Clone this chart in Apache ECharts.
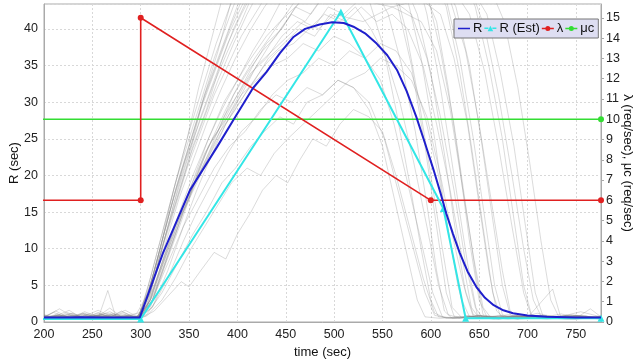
<!DOCTYPE html>
<html><head><meta charset="utf-8">
<script src="https://cdn.jsdelivr.net/npm/echarts@6/dist/echarts.min.js"></script>
<style>html,body{margin:0;padding:0;background:#fff}#c{width:634px;height:364px}</style>
</head><body><div id="c"></div>
<script>
// ---- data ----
const xTicks = [200, 250, 300, 350, 400, 450, 500, 550, 600, 650, 700, 750];
const seriesNames = ['R', 'R (Est)', 'λ', 'μc'];
// mean response time R (sec)
const rMean = [[200,0.6],[220,0.6],[240,0.65],[260,0.6],[280,0.6],[299,0.6],[323,9.4],[351,18.0],[379,23.9],[396,27.6],[416,31.9],[430,34.1],[444,36.7],[458,38.9],[470,40.0],[485,40.6],[498,40.9],[510,40.8],[520,40.3],[532,39.4],[544,38.0],[555,36.4],[565,34.4],[575,31.5],[585,28.0],[594,24.4],[603,20.7],[610,17.6],[616,14.8],[623,12.0],[630,9.4],[638,6.9],[647,4.8],[656,3.3],[665,2.3],[675,1.6],[685,1.2],[700,0.9],[720,0.7],[750,0.6],[776,0.6]];
// estimated R (sec)
const rEst = [[0,0.4],[300,0.4],[507,42.3],[613,15.5],[636,0.5],[776,0.5]];
// arrival rate λ (req/sec)
const lambda = [[0,6],[300,6],[300,15],[600,6],[776,6]];
// service capacity μc (req/sec)
const muC = [[0,10],[776,10]];
// individual simulation runs R (sec)
const grayRuns = [
[[200,0.5],[214,1.0],[228,0.6],[242,1.2],[256,0.5],[270,0.8],[284,0.4],[298,0.7],[312,6],[326,12],[340,19],[352,24],[366,31],[380,37],[394,44],[410,50],[540,52],[560,47],[574,40],[588,30],[600,20],[612,10],[622,2],[632,0.6],[650,0.9],[670,0.4],[690,0.8],[710,0.5],[735,1.1],[755,0.5],[776,0.7]],
[[200,0.8],[210,0.4],[224,1.3],[238,0.6],[252,0.9],[266,0.5],[280,1.5],[294,0.6],[306,2],[320,7],[336,13],[350,17],[366,23],[380,26],[396,31],[410,34],[426,37],[440,39],[456,42],[470,41],[486,44],[500,46],[520,45],[540,47],[560,44],[580,42],[596,36],[610,28],[624,18],[636,8],[646,2],[654,0.5],[670,0.8],[690,0.4],[710,1.2],[730,0.6],[750,0.9],[776,0.4]],
[[200,0.6],[216,1.8],[230,0.7],[244,0.5],[258,1.0],[272,0.6],[286,0.9],[300,0.5],[314,1.5],[328,3.5],[342,5.5],[350,4.8],[362,7],[376,9.5],[388,8.6],[400,12],[414,15],[426,18],[440,20],[452,19],[464,22],[478,25],[492,24],[506,27],[520,29],[536,28],[550,26],[564,20],[578,13],[592,6],[604,1.2],[616,0.5],[640,0.8],[665,0.4],[690,0.9],[720,0.5],[750,0.8],[776,0.5]],
[[200,0.4],[212,0.7],[226,0.5],[240,1.0],[254,0.4],[268,0.6],[282,0.9],[296,0.5],[308,4],[320,10],[334,18],[348,25],[360,32],[372,38],[386,45],[400,52],[560,55],[580,50],[596,42],[610,32],[624,20],[638,8],[648,1],[660,0.6],[680,1.0],[700,0.5],[725,0.7],[750,0.4],[776,0.8]],
[[200,1.0],[214,0.6],[228,0.4],[242,0.8],[256,1.6],[270,0.7],[284,0.5],[298,0.8],[310,3],[326,9],[340,14],[356,20],[370,25],[386,30],[400,33],[416,37],[430,40],[446,44],[620,46],[640,42],[656,34],[670,24],[684,13],[696,4],[704,0.8],[720,0.5],[740,0.9],[760,0.6],[776,0.5]],
[[200,0.5],[216,0.9],[232,0.5],[246,1.1],[260,0.6],[274,0.4],[288,0.8],[300,0.6],[314,5],[330,11],[344,16],[360,21],[374,25],[390,28],[404,31],[420,33],[436,35],[452,36],[468,38],[484,37],[500,39],[516,38],[532,36],[548,33],[562,27],[576,19],[590,11],[602,4],[612,0.7],[630,0.5],[650,0.9],[680,0.5],[710,0.7],[740,0.4],[776,0.6]],
[[200,0.7],[210,1.3],[224,0.6],[238,0.4],[252,0.8],[264,1.2],[278,0.6],[292,0.9],[302,1.5],[316,8],[330,15],[346,22],[360,27],[374,32],[390,37],[404,41],[420,46],[600,48],[616,43],[630,34],[642,24],[654,13],[664,4],[672,0.8],[690,0.5],[710,0.9],[730,0.6],[755,1.4],[776,0.7]],
[[200,0.6],[214,0.4],[228,1.0],[242,0.6],[256,0.5],[266,4.3],[274,0.8],[288,0.5],[300,0.7],[312,3],[328,9],[344,15],[358,19],[372,23],[388,27],[402,30],[418,33],[432,36],[448,38],[464,40],[480,39],[496,42],[512,41],[528,43],[544,41],[560,42],[576,40],[592,35],[606,27],[620,18],[632,9],[642,2],[650,0.5],[670,0.9],[700,0.6],[726,4.5],[734,0.8],[755,0.5],[776,0.6]],
[[200,0.9],[212,0.5],[226,0.7],[240,1.2],[254,0.6],[268,1.9],[280,0.7],[294,0.5],[306,1],[322,4],[338,8],[354,12],[368,15],[384,19],[398,21],[414,24],[428,26],[444,28],[458,27],[472,30],[488,31],[504,33],[520,32],[536,30],[552,25],[566,18],[580,11],[594,4],[604,0.9],[620,0.5],[650,0.8],[680,0.4],[710,0.8],[740,0.5],[776,0.7]],
[[200,0.5],[216,0.8],[230,0.4],[244,0.7],[258,1.1],[272,0.5],[286,0.7],[300,0.5],[312,5],[326,12],[340,18],[354,24],[368,29],[382,35],[396,40],[410,44],[640,46],[656,40],[670,31],[684,20],[696,10],[706,3],[714,0.8],[730,0.5],[750,0.9],[776,0.5]],
[[200,0.7],[212,1.5],[226,0.6],[240,0.5],[254,0.9],[268,0.6],[282,1.3],[296,0.6],[308,2.5],[322,8],[338,14],[352,18],[368,22],[382,26],[398,29],[412,32],[428,35],[442,37],[458,38],[474,40],[490,42],[506,41],[522,43],[538,40],[554,36],[568,30],[582,22],[596,13],[608,5],[618,1],[630,0.5],[660,0.8],[690,0.5],[720,0.9],[750,0.5],[776,0.6]],
[[200,0.4],[214,0.7],[228,1.2],[242,0.5],[256,0.7],[270,1.0],[284,0.4],[298,0.6],[310,6],[324,13],[338,20],[350,26],[364,32],[378,38],[392,43],[406,47],[560,48],[576,44],[590,36],[604,25],[616,14],[628,5],[636,0.9],[650,0.6],[670,0.4],[695,0.8],[720,0.5],[745,1.0],[776,0.5]],
[[200,0.6],[214,0.9],[228,0.5],[242,1.4],[256,0.7],[270,0.5],[284,1.0],[298,0.7],[310,2],[326,8],[340,13],[356,19],[370,23],[386,28],[400,31],[416,35],[430,38],[446,40],[460,43],[476,45],[600,47],[620,44],[636,37],[650,27],[662,17],[674,7],[682,1.5],[692,0.6],[712,0.9],[735,0.5],[760,0.8],[776,0.5]],
[[200,0.8],[214,0.5],[228,0.9],[242,0.6],[256,1.2],[270,0.6],[284,0.5],[298,0.9],[310,4],[324,10],[340,17],[354,22],[368,27],[384,32],[398,36],[414,40],[428,43],[444,46],[520,47],[536,44],[550,38],[564,29],[578,19],[590,10],[600,3],[608,0.7],[625,0.5],[650,0.9],[680,0.5],[710,0.7],[745,0.4],[776,0.6]],
[[200,0.5],[212,0.8],[226,1.6],[238,0.6],[252,0.5],[266,0.9],[280,0.6],[294,0.4],[306,0.8],[322,3],[336,6],[352,10],[366,13],[380,16],[394,19],[410,21],[424,20],[438,23],[452,25],[468,27],[484,29],[500,31],[516,33],[532,34],[548,36],[564,35],[580,33],[596,28],[610,20],[622,12],[634,5],[644,1],[656,0.5],[680,0.8],[710,0.5],[740,0.9],[776,0.5]],
[[200,0.6],[212,0.4],[226,0.8],[240,0.5],[254,0.7],[268,1.4],[282,0.6],[296,0.5],[306,3],[320,10],[334,17],[348,23],[362,29],[376,34],[390,39],[404,43],[420,47],[580,49],[596,45],[610,37],[624,27],[636,16],[646,7],[654,1],[664,0.5],[690,0.8],[720,0.5],[750,0.7],[776,0.4]],
[[200,0.7],[216,0.5],[230,0.9],[244,0.6],[258,0.4],[272,1.1],[286,0.6],[300,0.8],[312,3],[328,9],[344,15],[358,20],[374,25],[388,29],[404,33],[418,36],[434,39],[450,42],[466,45],[660,46],[676,41],[690,32],[702,22],[714,11],[724,3],[732,0.8],[750,0.5],[765,1.8],[776,0.7]],
[[200,0.5],[214,1.1],[228,0.6],[242,0.4],[256,0.9],[270,0.5],[284,0.8],[298,0.5],[308,5],[322,12],[336,19],[350,25],[362,30],[376,36],[390,41],[404,46],[550,48],[566,43],[580,35],[594,24],[606,13],[616,4],[624,0.8],[640,0.5],[660,0.8],[690,0.4],[720,0.7],[750,0.5],[776,0.8]],
[[200,0.9],[214,0.6],[228,0.4],[242,0.8],[256,0.6],[270,1.0],[284,0.5],[298,0.7],[310,3],[326,9],[340,14],[356,19],[370,24],[384,27],[400,31],[414,34],[430,36],[446,39],[462,41],[478,40],[494,43],[510,42],[526,44],[560,43],[590,44],[610,42],[624,36],[638,27],[650,16],[660,7],[668,1.5],[676,0.6],[700,0.9],[730,0.5],[760,0.8],[776,0.5]],
[[200,0.4],[212,0.6],[226,1.0],[240,0.5],[254,0.8],[268,0.4],[282,0.7],[296,1.2],[308,4],[322,11],[336,18],[350,24],[364,30],[378,35],[392,40],[408,45],[570,47],[586,42],[600,34],[614,23],[626,12],[636,4],[644,0.7],[660,0.5],[690,0.9],[720,0.5],[750,0.8],[776,0.5]],
[[200,0.6],[214,0.8],[228,0.5],[242,1.0],[256,0.5],[270,0.8],[284,1.6],[298,0.6],[312,2],[328,6],[344,11],[358,15],[374,19],[390,23],[404,26],[420,28],[436,31],[452,33],[468,34],[484,36],[500,35],[516,37],[532,36],[548,38],[564,37],[580,34],[594,28],[608,20],[620,11],[632,3],[640,0.7],[660,0.5],[690,0.8],[720,0.5],[750,0.9],[776,0.6]],
[[200,0.5],[214,0.7],[228,0.4],[242,0.9],[256,0.5],[270,0.7],[284,0.4],[298,0.8],[310,5],[324,12],[338,19],[352,25],[366,31],[380,36],[394,41],[408,46],[630,48],[646,43],[660,35],[674,25],[686,14],[696,5],[704,1],[716,0.5],[740,0.8],[760,0.5],[776,0.7]],
[[200,0.8],[214,0.5],[228,0.7],[242,0.5],[256,1.3],[270,0.6],[284,0.4],[298,0.6],[310,3],[324,9],[340,15],[354,20],[370,25],[384,29],[400,33],[414,36],[430,39],[444,41],[460,43],[476,42],[492,45],[540,46],[556,42],[570,35],[584,26],[596,16],[606,7],[614,1.5],[622,0.5],[650,0.8],[680,0.5],[710,0.8],[740,0.5],[776,0.6]],
[[200,0.6],[212,0.9],[226,0.5],[240,0.7],[254,0.4],[268,0.8],[282,1.1],[296,0.5],[306,2],[320,9],[334,16],[348,22],[362,28],[376,33],[390,38],[404,42],[420,46],[610,47],[626,43],[640,35],[652,25],[664,14],[674,5],[682,1],[694,0.5],[720,0.8],[750,0.5],[776,0.6]],
[[200,0.5],[216,0.7],[230,1.2],[244,0.5],[258,0.8],[272,0.5],[286,0.9],[300,0.6],[314,4],[330,10],[344,15],[360,20],[374,24],[390,28],[406,32],[420,35],[436,37],[452,39],[468,41],[484,40],[500,42],[530,41],[560,43],[590,41],[606,37],[620,29],[632,19],[644,9],[654,2],[662,0.6],[690,0.8],[720,0.4],[750,0.8],[776,0.6]],
[[200,0.7],[214,0.5],[228,0.8],[242,0.6],[256,0.9],[270,0.5],[284,0.7],[298,0.5],[312,3],[328,8],[344,13],[360,17],[376,21],[392,24],[408,26],[424,29],[440,31],[456,30],[472,32],[488,31],[504,33],[520,32],[536,29],[550,24],[562,17],[574,10],[586,3],[594,0.7],[610,0.5],[640,0.8],[670,0.5],[700,0.8],[740,0.5],[776,0.6]],
[[200,0.6],[212,0.8],[226,0.5],[240,1.1],[254,0.6],[268,0.4],[282,0.7],[296,0.6],[306,3],[320,9],[334,15],[348,21],[362,26],[376,31],[390,35],[404,39],[418,42],[432,45],[590,46],[606,41],[618,32],[630,21],[640,11],[650,3],[658,0.7],[680,0.5],[710,0.8],[740,0.5],[776,0.7]],
[[200,0.5],[214,0.9],[228,0.6],[242,0.4],[256,0.7],[270,1.2],[284,0.5],[298,0.8],[310,4],[324,11],[338,17],[352,23],[366,28],[380,33],[396,38],[410,42],[426,46],[600,48],[616,44],[630,36],[644,25],[656,14],[666,5],[674,1],[684,0.5],[710,0.9],[740,0.5],[776,0.6]],
[[200,0.8],[214,0.5],[228,0.7],[242,0.4],[256,0.9],[270,0.6],[284,0.8],[298,0.5],[312,2],[328,7],[344,13],[358,18],[374,23],[388,27],[404,31],[420,35],[434,38],[450,41],[466,44],[640,46],[658,42],[672,34],[686,24],[698,13],[708,4],[716,0.8],[735,0.5],[755,0.9],[776,0.5]]
];

// ---- chart ----
const chart = echarts.init(document.getElementById('c'), null, {renderer: 'canvas'});
const font = 'Liberation Sans, Arial, sans-serif';
const series = [];
grayRuns.forEach((run, i) => {
  series.push({
    name: 'run' + i, type: 'line', data: run, symbol: 'none', silent: true,
    yAxisIndex: 0, z: 1,
    lineStyle: {color: 'rgba(130,130,130,0.32)', width: 0.9}
  });
});
series.push({
  name: 'μc', type: 'line', data: muC, yAxisIndex: 1, z: 3,
  symbol: 'circle', symbolSize: 6, showSymbol: true,
  itemStyle: {color: '#33dd33'}, lineStyle: {color: '#33dd33', width: 1.6}
});
series.push({
  name: 'λ', type: 'line', data: lambda, yAxisIndex: 1, z: 4,
  symbol: 'circle', symbolSize: 6,
  itemStyle: {color: '#e02020'}, lineStyle: {color: '#e02020', width: 1.6}
});
series.push({
  name: 'R (Est)', type: 'line', data: rEst, yAxisIndex: 0, z: 5,
  symbol: 'triangle', symbolSize: 7,
  itemStyle: {color: '#33e6e6'}, lineStyle: {color: '#33e6e6', width: 2}
});
series.push({
  name: 'R', type: 'line', data: rMean, yAxisIndex: 0, z: 6,
  symbol: 'none',
  itemStyle: {color: '#1f1fcc'}, lineStyle: {color: '#1f1fcc', width: 2}
});

const iconLine = 'path://M0,0.5 L0,0.51 M0,3.2 L12,3.2 L12,4.8 L0,4.8 Z M12,7.5 L12,7.51';
const iconTri = 'path://M0,3.2 L4,3.2 L4,4.8 L0,4.8 Z M8,3.2 L12,3.2 L12,4.8 L8,4.8 Z M3.2,7 L6,1.5 L8.8,7 Z';
const iconDot = 'path://M0,3.2 L4,3.2 L4,4.8 L0,4.8 Z M8,3.2 L12,3.2 L12,4.8 L8,4.8 Z M3.5,4 A2.5,2.5 0 1 1 8.5,4 A2.5,2.5 0 1 1 3.5,4 Z';

const axisLabelStyle = {color: '#222', fontSize: 12.5, fontFamily: font};
chart.setOption({
  animation: false,
  backgroundColor: '#fff',
  grid: {left: 44, right: 33, top: 4, bottom: 42, show: true, borderColor: '#aaa', borderWidth: 1,
         containLabel: false, outerBoundsMode: 'none'},
  legend: {
    data: [
      {name: 'R', icon: iconLine},
      {name: 'R (Est)', icon: iconTri},
      {name: 'λ', icon: iconDot},
      {name: 'μc', icon: iconDot}
    ],
    left: 454, top: 19, orient: 'horizontal',
    backgroundColor: '#dedef2', borderColor: '#777', borderWidth: 1,
    padding: [3, 4], itemGap: 2, itemWidth: 12, itemHeight: 8,
    textStyle: {color: '#111', fontSize: 13, fontFamily: font, padding: [0, 0, 0, -2]}
  },
  xAxis: {
    type: 'value', min: 200, max: 776, interval: 50,
    name: 'time (sec)', nameLocation: 'middle', nameGap: 24,
    nameTextStyle: {color: '#111', fontSize: 13, fontFamily: font},
    axisLine: {show: true, lineStyle: {color: '#aaa'}},
    axisTick: {show: false},
    axisLabel: Object.assign({showMaxLabel: false, margin: 6}, axisLabelStyle),
    splitLine: {show: true, lineStyle: {color: '#d8d8d8', type: [2, 2]}}
  },
  yAxis: [{
    type: 'value', min: 0, max: 43.4, interval: 5, position: 'left',
    name: 'R (sec)', nameLocation: 'middle', nameGap: 30, nameRotate: 90, nameMoveOverlap: false,
    nameTextStyle: {color: '#111', fontSize: 13, fontFamily: font, align: 'center', verticalAlign: 'middle'},
    axisLine: {show: true, lineStyle: {color: '#aaa'}},
    axisTick: {show: false},
    axisLabel: Object.assign({showMaxLabel: false, margin: 6}, axisLabelStyle),
    splitLine: {show: true, lineStyle: {color: '#d8d8d8', type: [2, 2]}}
  }, {
    type: 'value', min: 0, max: 15.68, interval: 1, position: 'right',
    name: 'λ (req/sec), μc (req/sec)', nameLocation: 'middle', nameGap: 27, nameRotate: -90, nameMoveOverlap: false,
    nameTextStyle: {color: '#111', fontSize: 13, fontFamily: font, align: 'center', verticalAlign: 'middle'},
    axisLine: {show: true, lineStyle: {color: '#aaa'}},
    axisTick: {show: true, length: 3, lineStyle: {color: '#aaa'}},
    axisLabel: Object.assign({showMaxLabel: false, margin: 5}, axisLabelStyle),
    splitLine: {show: false}
  }],
  series: series
});
</script>
</body></html>
